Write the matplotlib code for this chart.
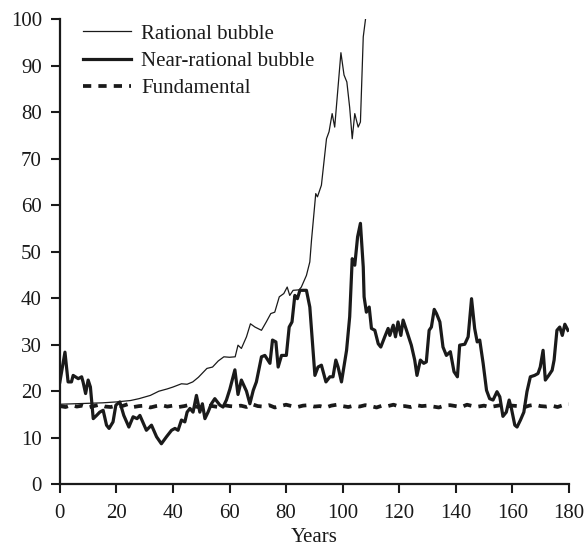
import numpy as np
import matplotlib
matplotlib.use("Agg")
import matplotlib.pyplot as plt

plt.rcParams['font.family'] = ['Liberation Serif', 'DejaVu Serif']

# Rational bubble (thin line)
rat_years = [0, 5, 10, 15, 20, 25, 28, 32, 35, 38, 40, 43, 45, 47, 49, 52, 54, 56, 58,
             60, 62, 63, 64.2, 66, 67.4, 69, 71.3, 73, 74.6, 76, 77.6, 79.2, 80.4, 81.3,
             82.5, 84.6, 85.4, 87.2, 88.4, 89, 90.5, 91.1, 92.5, 94.3, 95.2, 96.3, 97.2,
             99.4, 100.5, 101.5, 102.5, 103.4, 104.3, 105.5, 106.3, 107.3, 108.2, 109]
rat_vals = [17.2, 17.3, 17.4, 17.5, 17.7, 18.0, 18.4, 19.1, 20.0, 20.5, 20.9, 21.6, 21.5,
            22.0, 23.0, 24.9, 25.2, 26.5, 27.4, 27.3, 27.4, 29.9, 29.2, 31.7, 34.5, 33.8,
            33.1, 34.9, 36.7, 37.0, 40.3, 41.0, 42.4, 40.6, 41.7, 41.8, 42.4, 44.9, 47.8,
            52.5, 62.5, 61.8, 64.3, 74.3, 75.8, 79.7, 76.8, 92.8, 88.0, 86.5, 81.0, 74.3,
            79.7, 76.8, 77.9, 96.2, 100.5, 103]

# Near-rational bubble (thick line)
near_years = [0, 1.8, 2.9, 4.1, 4.7, 6.5, 7.7, 8.2, 9.1, 10, 10.8, 11.8, 13, 14.1, 15.3,
              16.5, 17.4, 18.8, 19.8, 21.2, 22.6, 24.4, 25.9, 27.3, 28.3, 30.6, 32.4, 34.2,
              35.9, 37.7, 39.5, 40.7, 41.8, 43, 44.2, 45, 46, 47.1, 48.3, 49.5, 50.4, 51.3,
              52.4, 53.6, 54.8, 56.6, 57.7, 58.9, 60.1, 61.9, 63, 64.2, 66, 67.2, 68.4,
              69.5, 71.3, 72.5, 74.3, 75.2, 76.4, 77.2, 78.4, 80.1, 81.1, 82.1, 83.1, 84,
              84.9, 87.2, 88.4, 90.2, 91.3, 92.5, 94.1, 95.5, 96.6, 97.6, 98.4, 99.6, 101.4,
              102.5, 103.4, 104.3, 105.3, 106.3, 107.3, 107.6, 108.4, 109.4, 110.2, 111.4,
              112.6, 113.5, 114.9, 116.1, 116.7, 117.9, 118.7, 119.6, 120.6, 121.4, 122.6,
              124.3, 125.5, 126.3, 127.5, 128.7, 129.6, 130.6, 131.4, 132.4, 133.2, 134.4,
              135.5, 136.7, 138.1, 139.4, 140.6, 141.4, 143.2, 144.4, 145.6, 146.7, 147.6,
              148.5, 149.7, 150.9, 152, 153.2, 154.6, 155.6, 156.7, 157.9, 158.9, 159.7,
              160.9, 161.7, 162.9, 164.1, 165.2, 166.4, 167.9, 169.1, 169.9, 170.9, 171.7,
              172.9, 174.1, 174.8, 175.8, 176.8, 177.7, 178.6, 179.7]
near_vals = [22.0, 28.4, 22.0, 22.0, 23.4, 22.7, 23.1, 22.0, 19.5, 22.4, 20.9, 14.1, 14.8,
             15.5, 15.9, 12.7, 12.0, 13.4, 17.0, 17.7, 14.8, 12.3, 14.5, 14.1, 14.8, 11.6,
             12.7, 10.2, 8.7, 10.2, 11.6, 12.0, 11.6, 13.8, 13.4, 15.5, 16.3, 15.5, 19.1,
             15.5, 17.3, 14.1, 15.5, 17.3, 18.4, 17.0, 16.6, 18.1, 20.4, 24.6, 19.3, 22.4,
             20.0, 17.3, 20.2, 22.0, 27.4, 27.7, 26.0, 31.0, 30.6, 25.2, 27.7, 27.7, 33.8,
             34.9, 40.6, 39.9, 41.7, 41.7, 38.1, 23.4, 25.2, 25.6, 22.0, 23.1, 23.1, 26.7,
             25.2, 22.0, 28.8, 36.0, 48.5, 47.1, 53.2, 56.1, 46.7, 40.3, 37.0, 38.1, 33.5,
             33.1, 30.2, 29.5, 31.7, 33.5, 32.0, 34.2, 31.7, 34.9, 32.0, 35.3, 33.1, 29.9,
             26.7, 23.4, 26.7, 26.0, 26.3, 33.1, 33.8, 37.6, 36.7, 34.9, 29.5, 27.7, 28.5,
             24.2, 23.1, 29.9, 30.1, 31.7, 39.9, 33.5, 30.6, 31.0, 26.0, 20.2, 18.4, 18.1,
             19.9, 18.8, 14.6, 15.5, 18.1, 16.3, 12.7, 12.3, 13.8, 15.5, 19.9, 23.1, 23.4,
             23.8, 25.2, 28.8, 22.4, 23.4, 24.5, 26.7, 33.1, 33.8, 32.0, 34.4, 33.1]

# Fundamental (dashed), every 2 years
fund_vals = [16.8, 16.6, 17.0, 16.7, 16.9, 16.5, 16.8, 17.1, 16.7, 16.6,
             16.9, 16.8, 17.2, 16.6, 16.8, 16.9, 16.5, 16.8, 17.0, 16.7,
             16.9, 16.6, 16.8, 17.1, 16.7, 16.5, 16.9, 16.8, 16.6, 17.0,
             16.8, 16.7, 16.9, 16.6, 17.2, 16.8, 16.7, 17.0, 16.5, 16.8,
             17.1, 16.8, 16.6, 16.9, 17.0, 16.7, 16.8, 16.5, 16.9, 17.1,
             16.8, 16.6, 16.9, 16.7, 17.0, 16.8, 16.5, 16.9, 16.8, 17.1,
             16.7, 16.8, 16.6, 17.0, 16.8, 16.9, 16.7, 16.5, 16.9, 17.0,
             16.8, 16.6, 17.1, 16.8, 16.7, 16.9, 16.6, 16.8, 17.0, 16.7,
             16.9, 16.8, 16.5, 16.9, 17.1, 16.8, 16.7, 16.9, 16.6, 17.0,
             17.2]
fund_years = np.arange(len(fund_vals)) * 2

fig = plt.figure(figsize=(5.87, 5.49), dpi=100)
ax = fig.add_axes([0.102, 0.118, 0.867, 0.847])

ax.plot(rat_years, rat_vals, color='#1a1a1a', lw=0.9, label='Rational bubble')
ax.plot(near_years, near_vals, color='#1a1a1a', lw=2.3, label='Near-rational bubble')
ax.plot(fund_years, fund_vals, color='#1a1a1a', lw=2.7, dashes=(2.2, 1.9),
        label='Fundamental')

ax.set_xlim(0, 180)
ax.set_ylim(0, 100)
ax.set_xticks(range(0, 181, 20))
ax.set_yticks(range(0, 101, 10))
for s in ['top', 'right']:
    ax.spines[s].set_visible(False)
for s in ['left', 'bottom']:
    ax.spines[s].set_linewidth(1.6)
    ax.spines[s].set_color('#1a1a1a')
ax.tick_params(direction='out', length=6.5, width=1.5, labelsize=15, color='#1a1a1a',
               labelcolor='#1a1a1a')
ax.tick_params(axis='x', pad=8)
ax.tick_params(axis='y', pad=6.5)
ax.set_xlabel('Years', fontsize=15, color='#1a1a1a', labelpad=3)

ax.legend(loc='upper left', bbox_to_anchor=(0.008, 1.03), frameon=False, fontsize=15,
          handlelength=2.3, handletextpad=0.5, labelspacing=0.37, labelcolor='#1a1a1a')

fig.savefig('out.png', dpi=100)
